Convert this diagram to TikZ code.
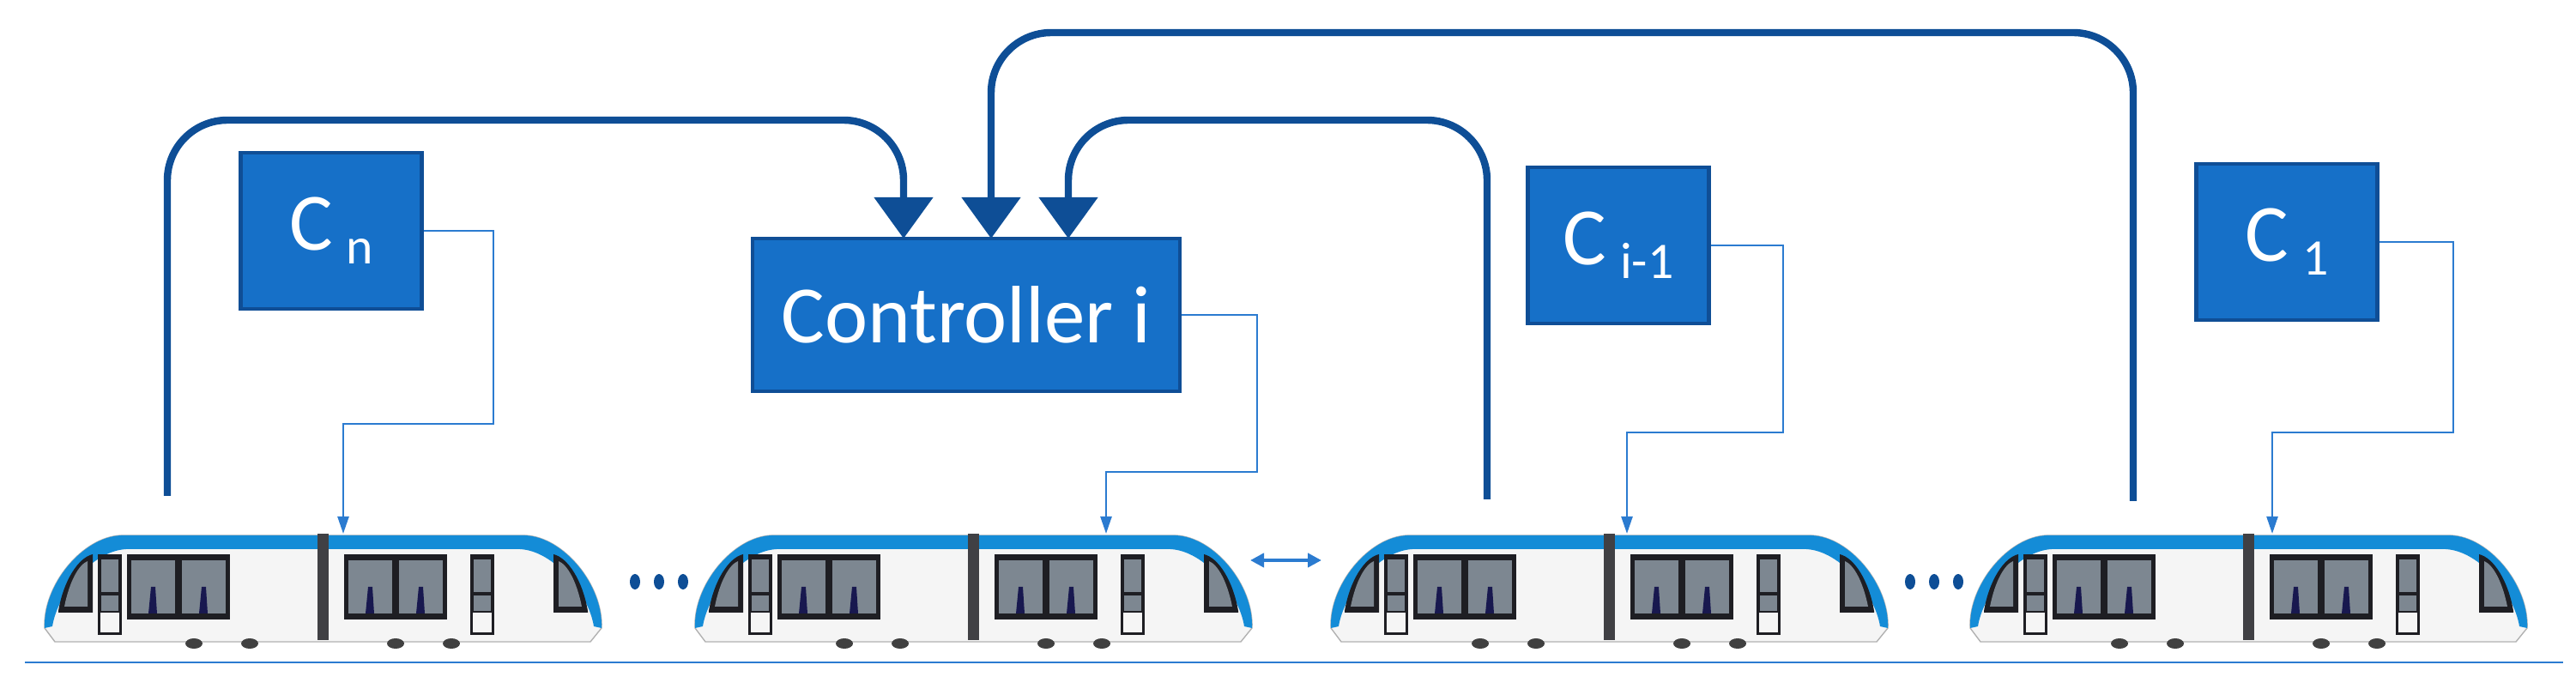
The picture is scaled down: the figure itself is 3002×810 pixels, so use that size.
\documentclass[tikz,border=0pt]{standalone}
\usepackage{fontspec}
\setmainfont{Carlito}
\usetikzlibrary{arrows.meta}
\definecolor{boxblue}{RGB}{22,112,200}
\definecolor{boxedge}{RGB}{15,78,150}
\definecolor{thickblue}{RGB}{14,78,150}
\definecolor{sigblue}{RGB}{43,123,208}
\definecolor{roof}{RGB}{20,140,215}
\definecolor{glass}{RGB}{125,135,145}
\definecolor{frame}{RGB}{30,30,35}
\tikzset{
  box/.style={draw=boxedge,line width=1.2pt,fill=boxblue,text=white,inner sep=0pt},
  cbox/.style={box,minimum width=2.11cm,minimum height=1.82cm,font=\fontsize{27}{27}\selectfont},
  big/.style={draw=thickblue,line width=2.4pt,rounded corners=0.7cm,-{Triangle[width=0.67cm,length=0.48cm]}},
  sig/.style={draw=sigblue,line width=0.7pt,-{Triangle[width=0.13cm,length=0.2cm]}},
  pics/tram/.style={code={
    \fill[white!92!gray,draw=gray!60] (6,110) .. controls (4,60) and (50,4) .. (95,2) -- (566,2) .. controls (611,4) and (657,60) .. (655,110) -- (642,126) -- (18,126) -- cycle;
    \fill[roof] (6,110) .. controls (4,60) and (50,4) .. (95,2) -- (566,2) .. controls (611,4) and (657,60) .. (655,110) -- (646,108) .. controls (640,70) and (600,20) .. (560,18) -- (101,18) .. controls (61,20) and (21,70) .. (15,108) -- cycle;
    \fill[frame] (22,90) .. controls (28,55) and (45,28) .. (62,24) -- (62,92) -- (22,92) -- cycle;
    \fill[frame] (639,90) .. controls (633,55) and (616,28) .. (599,24) -- (599,92) -- (639,92) -- cycle;
    \fill[glass] (29,85) .. controls (35,55) and (46,36) .. (56,32) -- (56,85) -- cycle;
    \fill[glass] (632,85) .. controls (626,55) and (615,36) .. (605,32) -- (605,85) -- cycle;
    \foreach \x in {102,355}{
      \fill[frame] (\x,24) rectangle (\x+120,100);
      \fill[glass] (\x+5,31) rectangle (\x+56,93);
      \fill[glass] (\x+64,31) rectangle (\x+115,93);
      \fill[frame!80!blue] (\x+28,62) -- (\x+33,62) -- (\x+35,93) -- (\x+25,93) -- cycle;
      \fill[frame!80!blue] (\x+87,62) -- (\x+92,62) -- (\x+94,93) -- (\x+84,93) -- cycle;
    }
    \foreach \x in {68,502}{
      \fill[frame] (\x,24) rectangle (\x+28,118);
      \fill[white!92!gray] (\x+3,92) rectangle (\x+25,115);
      \fill[glass] (\x+4,30) rectangle (\x+24,68);
      \fill[glass] (\x+4,72) rectangle (\x+24,90);
    }
    \fill[frame!85] (324,0) rectangle (337,124);
    \foreach \x in {180,245,415,480}{\fill[black!75] (\x,128) ellipse (10 and 6);}
  }}
}
\begin{document}
\begin{tikzpicture}[x=0.01cm,y=-0.01cm]
\useasboundingbox (0,0) rectangle (3002,810);
\draw[sigblue,line width=0.8pt] (29,772) -- (2987,772);
\pic at (46,622) {tram};
\pic at (804,622) {tram};
\pic at (1545,622) {tram};
\pic at (2290,622) {tram};
\coordinate (t1) at (400,622);
\coordinate (t2) at (1289,622);
\coordinate (t3) at (1896,622);
\coordinate (t4) at (2648,622);
\coordinate (s1) at (195,578);
\coordinate (s3) at (1733,582);
\coordinate (s4) at (2486,584);
\foreach \x in {740,768,796}{\fill[thickblue] (\x,678) ellipse (6 and 9);}
\foreach \x in {2226,2254,2282}{\fill[thickblue] (\x,678) ellipse (6 and 9);}
\coordinate (da) at (1457,653);
\coordinate (db) at (1540,653);
\draw[sigblue,line width=1.4pt,{Triangle[width=0.16cm,length=0.16cm]}-{Triangle[width=0.16cm,length=0.16cm]}] (da) -- (db);
\node[cbox] (cn) at (386,269) {C\,\raisebox{-0.35ex}{\fontsize{17}{17}\selectfont n}\hspace{0.3cm}};
\node[box,minimum width=4.98cm,minimum height=1.78cm,font=\fontsize{27}{27}\selectfont] (ctrl) at (1126,367) {Controller i};
\node[cbox] (ci) at (1886,286) {C\,\raisebox{-0.35ex}{\fontsize{17}{17}\selectfont i-1}\hspace{0.05cm}};
\node[cbox] (c1) at (2665,282) {C\,\raisebox{-0.35ex}{\fontsize{17}{17}\selectfont 1}\hspace{0.3cm}};
\coordinate (a1) at (1053,278);
\coordinate (a2) at (1155,278);
\coordinate (a3) at (1245,278);
\draw[big] (s1) -- (195,140) -- (1053,140) -- (a1);
\draw[big] (s3) -- (1733,140) -- (1245,140) -- (a3);
\draw[big] (s4) -- (2486,38) -- (1155,38) -- (a2);
\draw[sig] (cn.east) -| (575,494) -| (t1);
\draw[sig] (ctrl.east) -| (1465,550) -| (t2);
\draw[sig] (ci.east) -| (2078,504) -| (t3);
\draw[sig] (c1.east) -| (2859,504) -| (t4);
\end{tikzpicture}
\end{document}
